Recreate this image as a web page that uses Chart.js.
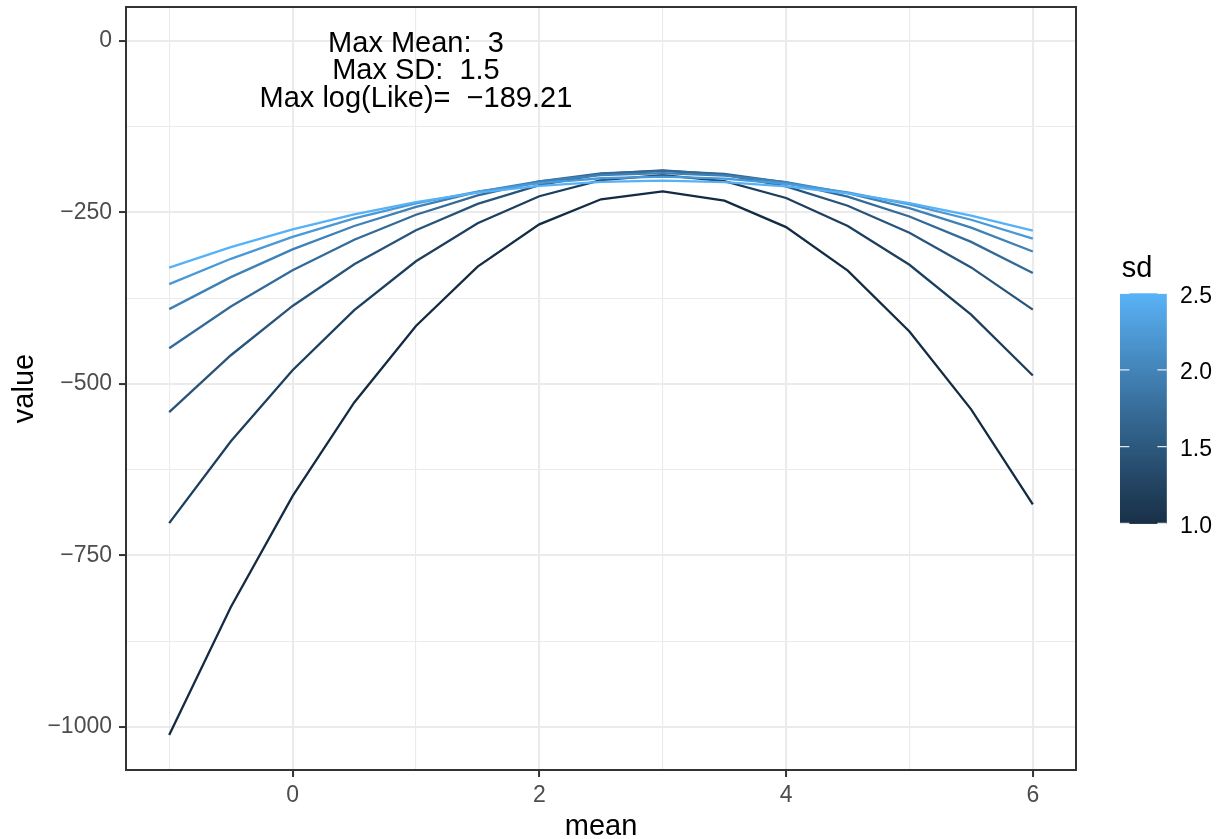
<!DOCTYPE html>
<html>
<head>
<meta charset="utf-8">
<script src="https://cdn.jsdelivr.net/npm/chart.js@4.4.1/dist/chart.umd.min.js"></script>
<style>
  html, body { margin: 0; padding: 0; background: #ffffff; }
  #wrap { width: 1220px; height: 839px; }
</style>
</head>
<body>
<div id="wrap"><canvas id="c" width="1220" height="839"></canvas></div>
<script>
// ---- data ----
const means = [-1, -0.5, 0, 0.5, 1, 1.5, 2, 2.5, 3, 3.5, 4, 4.5, 5, 5.5, 6];
const sdValues = [1.0, 1.25, 1.5, 1.75, 2.0, 2.25, 2.5];
const ll_sd100 = [-1011.6, -825.1, -663.6, -527.1, -415.6, -329.1, -267.6, -231.1, -219.6, -233.1, -271.6, -335.1, -423.6, -537.1, -675.6];
const ll_sd125 = [-702.8, -583.5, -480.1, -392.7, -321.4, -266.0, -226.7, -203.3, -195.9, -204.6, -229.2, -269.9, -326.5, -399.1, -487.8];
const ll_sd150 = [-541.2, -458.3, -386.5, -325.9, -276.3, -237.9, -210.5, -194.3, -189.2, -195.2, -212.3, -240.5, -279.9, -330.3, -391.9];
const ll_sd175 = [-448.2, -387.3, -334.5, -290.0, -253.6, -225.3, -205.2, -193.3, -189.6, -194.0, -206.5, -227.3, -256.2, -293.2, -338.5];
const ll_sd200 = [-391.1, -344.5, -304.1, -270.0, -242.1, -220.5, -205.1, -196.0, -193.1, -196.5, -206.1, -222.0, -244.1, -272.5, -307.1];
const ll_sd225 = [-354.7, -317.8, -285.9, -259.0, -236.9, -219.8, -207.7, -200.5, -198.2, -200.9, -208.5, -221.0, -238.5, -260.9, -288.3];
const ll_sd250 = [-330.7, -300.8, -275.0, -253.2, -235.3, -221.5, -211.6, -205.8, -204.0, -206.1, -212.3, -222.4, -236.6, -254.8, -276.9];
const seriesValues = [ll_sd100, ll_sd125, ll_sd150, ll_sd175, ll_sd200, ll_sd225, ll_sd250];

const xTicks = [-1, 0, 1, 2, 3, 4, 5, 6];
const xTickLabels = ['', '0', '', '2', '', '4', '', '6'];
const yTicks = [0, -125, -250, -375, -500, -625, -750, -875, -1000];
const yTickLabels = ['0', '', '\u2212250', '', '\u2212500', '', '\u2212750', '', '\u22121000'];
const legendTicks = [1.0, 1.5, 2.0, 2.5];
const legendTickLabels = ['1.0', '1.5', '2.0', '2.5'];
const annotationLines = ['Max Mean:  3', 'Max SD:  1.5', 'Max log(Like)=  \u2212189.21'];
const annotationX = 1;

// ---- colour scale (ggplot2 default, Lab interpolation) ----
const LOW = '#132B43', HIGH = '#56B1F7';
function hexToRgb(h){ return [1,3,5].map(i=>parseInt(h.substr(i,2),16)); }
function srgbToLin(c){ c/=255; return c<=0.04045? c/12.92 : Math.pow((c+0.055)/1.055,2.4); }
function linToSrgb(c){ const v = c<=0.0031308? 12.92*c : 1.055*Math.pow(c,1/2.4)-0.055; return Math.max(0,Math.min(255,Math.round(v*255))); }
const WX=0.95047, WY=1.0, WZ=1.08883;
function rgbToLab(rgb){
  const [r,g,b]=rgb.map(srgbToLin);
  const X=(r*0.4124+g*0.3576+b*0.1805)/WX, Y=(r*0.2126+g*0.7152+b*0.0722)/WY, Z=(r*0.0193+g*0.1192+b*0.9505)/WZ;
  const f=t=>t>0.008856? Math.cbrt(t) : 7.787*t+16/116;
  const fx=f(X), fy=f(Y), fz=f(Z);
  return [116*fy-16, 500*(fx-fy), 200*(fy-fz)];
}
function labToRgb(lab){
  const [L,a,bb]=lab; const fy=(L+16)/116, fx=fy+a/500, fz=fy-bb/200;
  const fi=t=>{ const t3=t*t*t; return t3>0.008856? t3 : (t-16/116)/7.787; };
  const X=fi(fx)*WX, Y=fi(fy)*WY, Z=fi(fz)*WZ;
  const r= 3.2406*X-1.5372*Y-0.4986*Z, g=-0.9689*X+1.8758*Y+0.0415*Z, b=0.0557*X-0.2040*Y+1.0570*Z;
  return [linToSrgb(r),linToSrgb(g),linToSrgb(b)];
}
const labLow=rgbToLab(hexToRgb(LOW)), labHigh=rgbToLab(hexToRgb(HIGH));
function colorAt(t){
  const lab=labLow.map((v,i)=>v+(labHigh[i]-v)*t);
  const [r,g,b]=labToRgb(lab); return `rgb(${r},${g},${b})`;
}
const sdMin = Math.min(...sdValues), sdMax = Math.max(...sdValues);

const datasets = sdValues.map((sd, i) => ({
  label: 'sd ' + sd,
  data: means.map((m, j) => ({x: m, y: seriesValues[i][j]})),
  borderColor: colorAt((sd - sdMin) / (sdMax - sdMin)),
  borderWidth: 2.3,
  pointRadius: 0,
  tension: 0,
  fill: false,
  order: sdValues.length - i
}));

const FONT = '"Liberation Sans", Arial, Helvetica, sans-serif';

const decor = {
  id: 'decor',
  afterDraw(chart){
    const ctx = chart.ctx, a = chart.chartArea;
    const xs = chart.scales.x, ys = chart.scales.y;
    ctx.save();
    // panel border
    ctx.strokeStyle = '#333333'; ctx.lineWidth = 2;
    ctx.strokeRect(a.left, a.top, a.right - a.left, a.bottom - a.top);
    // annotation
    ctx.fillStyle = '#000000';
    ctx.font = '29px ' + FONT;
    ctx.textAlign = 'center'; ctx.textBaseline = 'alphabetic';
    const ax = xs.getPixelForValue(annotationX), ay = ys.getPixelForValue(0);
    const offs = [11.1, 38.7, 66.7];
    annotationLines.forEach((t, i) => ctx.fillText(t, ax, ay + offs[i]));
    // axis titles
    ctx.font = '29px ' + FONT;
    ctx.fillText('mean', (a.left + a.right) / 2, 835);
    ctx.save();
    ctx.translate(33, (a.top + a.bottom) / 2);
    ctx.rotate(-Math.PI / 2);
    ctx.fillText('value', 0, 0);
    ctx.restore();
    // legend
    const bx = 1120, bw = 46.7, btop = 293.3, bbot = 523.3;
    ctx.textAlign = 'left';
    ctx.font = '29px ' + FONT;
    ctx.fillText('sd', 1121.7, 277.3);
    const n = 230;
    for (let k = 0; k < n; k++) {
      const y0 = bbot - (k + 1) * (bbot - btop) / n;
      ctx.fillStyle = colorAt((k + 0.5) / n);
      ctx.fillRect(bx, y0, bw, (bbot - btop) / n + 0.6);
    }
    ctx.font = '23px ' + FONT;
    ctx.textBaseline = 'middle';
    legendTicks.forEach((v, i) => {
      const y = bbot - (v - sdMin) / (sdMax - sdMin) * (bbot - btop);
      ctx.strokeStyle = 'rgba(255,255,255,0.85)'; ctx.lineWidth = 1.2;
      ctx.beginPath();
      ctx.moveTo(bx, y); ctx.lineTo(bx + bw * 0.2, y);
      ctx.moveTo(bx + bw * 0.8, y); ctx.lineTo(bx + bw, y);
      ctx.stroke();
      ctx.fillStyle = '#000000';
      ctx.fillText(legendTickLabels[i], 1180, y + 3);
    });
    ctx.restore();
  }
};

const isMajorX = v => Math.abs(v % 2) < 1e-9;
const isMajorY = v => Math.abs(v % 250) < 1e-9;

new Chart(document.getElementById('c'), {
  type: 'line',
  data: { datasets },
  options: {
    responsive: false,
    devicePixelRatio: 1,
    animation: false,
    layout: { padding: { top: 7, right: 144, left: 0, bottom: 0 } },
    plugins: { legend: { display: false }, tooltip: { enabled: false }, title: { display: false } },
    scales: {
      x: {
        type: 'linear', min: -1.35, max: 6.35,
        afterBuildTicks: s => { s.ticks = xTicks.map(v => ({ value: v })); },
        afterFit: s => { s.height = 69; s.paddingLeft = 0; s.paddingRight = 0; },
        border: { display: false },
        grid: {
          color: '#EBEBEB',
          lineWidth: c => (c.tick && isMajorX(c.tick.value)) ? 2.1 : 1.1,
          tickColor: c => (c.tick && isMajorX(c.tick.value)) ? '#333333' : 'rgba(0,0,0,0)',
          tickLength: 7,
          tickWidth: 2
        },
        ticks: {
          autoSkip: false, maxRotation: 0, padding: 5,
          color: '#4D4D4D', font: { family: FONT, size: 23 },
          callback: (v, i) => xTickLabels[xTicks.indexOf(v)] ?? ''
        }
      },
      y: {
        type: 'linear', min: -1062.5, max: 49,
        afterBuildTicks: s => { s.ticks = yTicks.map(v => ({ value: v })); },
        afterFit: s => { s.width = 126; s.paddingTop = 0; s.paddingBottom = 0; },
        border: { display: false },
        grid: {
          color: '#EBEBEB',
          lineWidth: c => (c.tick && isMajorY(c.tick.value)) ? 2.1 : 1.1,
          tickColor: c => (c.tick && isMajorY(c.tick.value)) ? '#333333' : 'rgba(0,0,0,0)',
          tickLength: 7,
          tickWidth: 2
        },
        ticks: {
          autoSkip: false, padding: 7,
          color: '#4D4D4D', font: { family: FONT, size: 23 },
          callback: (v) => yTickLabels[yTicks.indexOf(v)] ?? ''
        }
      }
    }
  },
  plugins: [decor]
});
</script>
</body>
</html>
